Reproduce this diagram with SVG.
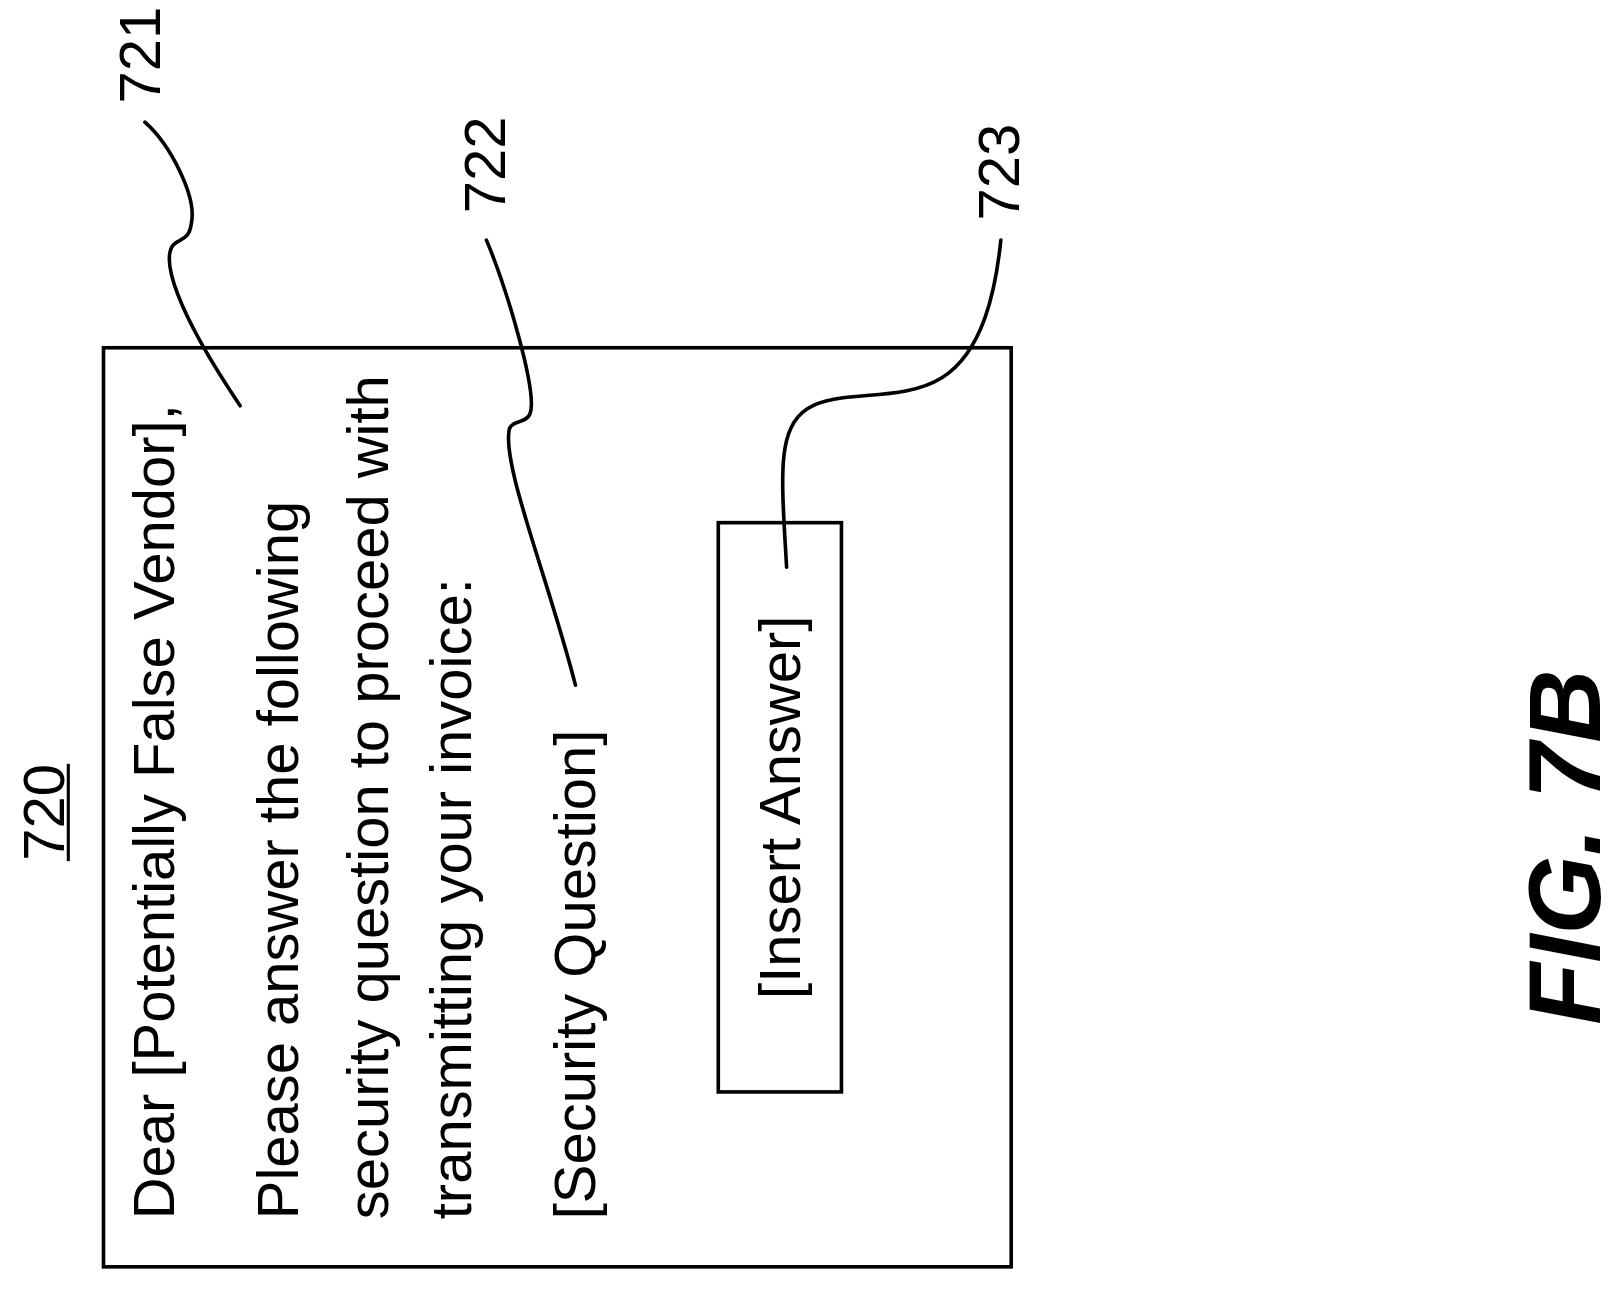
<svg xmlns="http://www.w3.org/2000/svg" width="1624" height="1290" viewBox="0 0 1624 1290">
<style>
.t{font-family:"Liberation Sans",Arial,sans-serif;font-size:56px;fill:#000}
.b{fill:none;stroke:#000;stroke-width:3.5}
.l{fill:none;stroke:#000;stroke-width:3.5;stroke-linecap:round}
</style>
<rect width="1624" height="1290" fill="#fff"/>
<g transform="scale(1.035)">
<g id="n720">
<text class="t" text-anchor="middle" transform="translate(62,785) rotate(-90)">720</text>
<line x1="66" y1="832" x2="66" y2="738" stroke="#000" stroke-width="3"/>
</g>
<g id="screen">
<rect class="b" x="100" y="336" width="877" height="888"/>
<text class="t" transform="translate(168,1178) rotate(-90)">Dear [Potentially False Vendor],</text>
<text class="t" transform="translate(288,1178) rotate(-90)">Please answer the following</text>
<text class="t" transform="translate(375,1178) rotate(-90)">security question to proceed with</text>
<text class="t" transform="translate(455,1178) rotate(-90)">transmitting your invoice:</text>
<text class="t" transform="translate(575,1178) rotate(-90)">[Security Question]</text>
</g>
<g id="answer">
<rect class="b" x="694" y="505" width="119" height="550"/>
<text class="t" text-anchor="middle" transform="translate(773,780) rotate(-90)">[Insert Answer]</text>
</g>
<g id="labels">
<text class="t" transform="translate(155,100) rotate(-90)">721</text>
<text class="t" transform="translate(488,206) rotate(-90)">722</text>
<text class="t" transform="translate(985,213) rotate(-90)">723</text>
</g>
<g id="connectors">
<path class="l" d="M140,118 C165,140 190,190 185,215 C183,232 175,230 168,236 C155,250 170,300 232,392"/>
<path class="l" d="M470,232 C490,280 520,380 512,400 C508,410 495,405 492,415 C485,450 530,560 556,662"/>
<path class="l" d="M967,232 C962,280 950,340 910,365 C870,390 810,375 780,395 C750,415 755,460 760,548"/>
</g>
<g id="fig">
<text transform="translate(1546,990) rotate(-90)" style="font-family:'Liberation Sans',Arial,sans-serif;font-size:98px;font-weight:bold;font-style:italic">FIG. 7B</text>
</g>
</g>
</svg>
